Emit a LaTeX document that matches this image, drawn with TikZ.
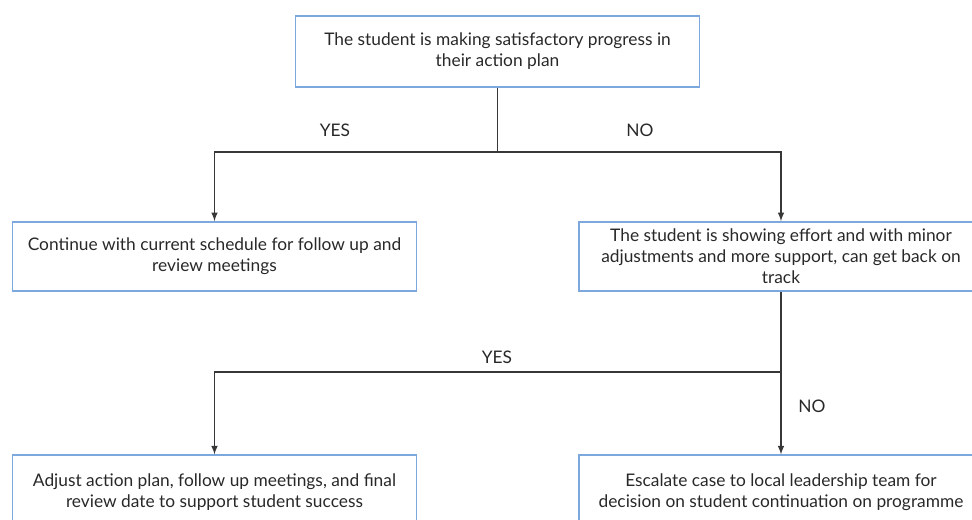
\documentclass[tikz,border=0pt]{standalone}
\usepackage{fontspec}
\setmainfont{Lato}
\usepackage{tikz}
\usetikzlibrary{shapes,arrows,positioning}
\definecolor{boxblue}{RGB}{125,168,222}
\definecolor{linegray}{RGB}{55,55,55}
\definecolor{textgray}{RGB}{40,40,40}
\tikzstyle{box} = [draw=boxblue,line width=1.1pt,rectangle,minimum width=303pt,minimum height=52pt,inner sep=0pt,align=center,text=textgray,font=\fontsize{13}{15.75}\selectfont]
\tikzstyle{line} = [draw=linegray,line width=1.2pt]
\tikzstyle{arrow} = [line,->,>=latex]
\tikzstyle{answer} = [text=textgray,font=\fontsize{13}{15.75}\selectfont]

\begin{document}
\begin{tikzpicture}[x=0.75pt,y=-0.75pt]
\clip (0,0) rectangle (972,520);
% boxes
\node[box,minimum height=53pt] (progress) at (497.5,51.5) {The student is making satisfactory progress in\\their action plan};
\node[box] (continue) at (214.5,256.5) {Continue with current schedule for follow up and\\review meetings};
\node[box] (effort) at (781,256.5) {The student is showing effort and with minor\\adjustments and more support, can get back on\\track};
\node[box,minimum height=56pt] (adjust) at (214.5,492.5) {Adjust action plan, follow up meetings, and final\\review date to support student success};
\node[box,minimum height=56pt] (escalate) at (781,492.5) {Escalate case to local leadership team for\\decision on student continuation on programme};

% first decision
\coordinate (split1) at (497.5,152);
\draw[line] (progress.south) -- (split1);
\draw[arrow] (split1) -| (continue.north);
\draw[arrow] (split1) -| (effort.north);
\node[answer] (yes1) at (335,130) {YES};
\node[answer] (no1) at (640,130) {NO};

% second decision
\coordinate (split2) at (781,372);
\draw[line] (effort.south) -- (split2);
\draw[arrow] (split2) -| (adjust.north);
\draw[arrow] (split2) -- (escalate.north);
\node[answer] (yes2) at (497,357) {YES};
\node[answer] (no2) at (812,406) {NO};
\end{tikzpicture}
\end{document}
